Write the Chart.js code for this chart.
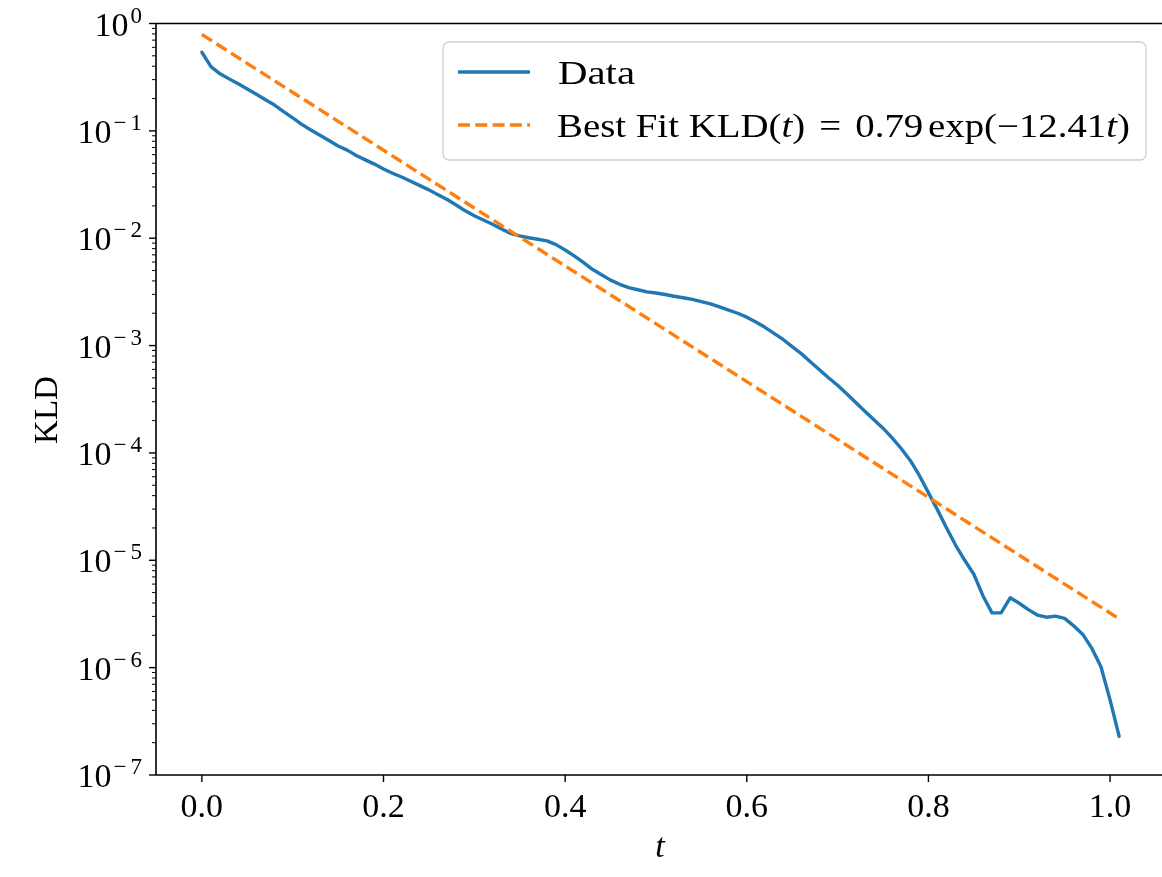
<!DOCTYPE html>
<html>
<head>
<meta charset="utf-8">
<title>KLD</title>
<script src="https://cdn.jsdelivr.net/npm/chart.js@4.4.1/dist/chart.umd.min.js"></script>
<style>
  html, body { margin: 0; padding: 0; background: #fff; }
  #chart { display: block; }
</style>
</head>
<body>
<canvas id="chart" width="1162" height="877"></canvas>
<script>
// time grid of the data
const tValues = [
  0.00, 0.01, 0.02, 0.03, 0.04, 0.05, 0.06, 0.07, 0.08, 0.09,
  0.10, 0.11, 0.12, 0.13, 0.14, 0.15, 0.16, 0.17, 0.18, 0.19,
  0.20, 0.21, 0.22, 0.23, 0.24, 0.25, 0.26, 0.27, 0.28, 0.29,
  0.30, 0.31, 0.32, 0.33, 0.34, 0.35, 0.36, 0.37, 0.38, 0.39,
  0.40, 0.41, 0.42, 0.43, 0.44, 0.45, 0.46, 0.47, 0.48, 0.49,
  0.50, 0.51, 0.52, 0.53, 0.54, 0.55, 0.56, 0.57, 0.58, 0.59,
  0.60, 0.61, 0.62, 0.63, 0.64, 0.65, 0.66, 0.67, 0.68, 0.69,
  0.70, 0.71, 0.72, 0.73, 0.74, 0.75, 0.76, 0.77, 0.78, 0.79,
  0.80, 0.81, 0.82, 0.83, 0.84, 0.85, 0.86, 0.87, 0.88, 0.89,
  0.90, 0.91, 0.92, 0.93, 0.94, 0.95, 0.96, 0.97, 0.98, 0.99,
  1.00, 1.01
];

// KLD
const kldValues = [
  0.540, 0.396, 0.340, 0.305, 0.275, 0.245, 0.219, 0.195, 0.174, 0.151,
  0.132, 0.115, 0.102, 0.0912, 0.0813, 0.0724, 0.0661, 0.0589, 0.0537, 0.0490,
  0.0442, 0.0403, 0.0372, 0.0339, 0.0309, 0.0282, 0.0254, 0.0229, 0.0204, 0.0180,
  0.0162, 0.0148, 0.0135, 0.0122, 0.0111, 0.0105, 0.0101, 0.00977, 0.00944, 0.00871,
  0.00776, 0.00684, 0.00596, 0.00513, 0.00457, 0.00407, 0.00372, 0.00347, 0.00331, 0.00316,
  0.00309, 0.00299, 0.00288, 0.00279, 0.00269, 0.00257, 0.00245, 0.00229, 0.00214, 0.00200,
  0.00184, 0.00166, 0.00148, 0.00130, 0.00114, 0.000977, 0.000841, 0.000708, 0.000596, 0.000501,
  0.000427, 0.000355, 0.000295, 0.000245, 0.000204, 0.000170, 0.000138, 0.000110, 8.51e-5, 6.17e-5,
  4.27e-5, 2.95e-5, 2.00e-5, 1.38e-5, 1.00e-5, 7.41e-6, 4.68e-6, 3.24e-6, 3.24e-6, 4.47e-6,
  3.98e-6, 3.47e-6, 3.09e-6, 2.95e-6, 3.02e-6, 2.88e-6, 2.45e-6, 2.04e-6, 1.51e-6, 1.02e-6,
  5.01e-7, 2.29e-7
];

// best fit line, straight on a log axis: its two ends
const fitT = [0.0, 1.01];
const fitValues = [0.79, 2.85e-6];

const xTicks = [0.0, 0.2, 0.4, 0.6, 0.8, 1.0];
const xTickLabels = ["0.0", "0.2", "0.4", "0.6", "0.8", "1.0"];
const yExponents = [0, -1, -2, -3, -4, -5, -6, -7];

const SERIF = '"Liberation Serif", "DejaVu Serif", serif';

function drawYLabel(ctx, y, exp) {
  ctx.textAlign = "left";
  ctx.textBaseline = "alphabetic";
  ctx.font = "23px " + SERIF;
  const digit = String(Math.abs(exp));
  const minusW = exp < 0 ? ctx.measureText("\u2212").width + 4 : 0;
  const expW = minusW + ctx.measureText(digit).width;
  const right = 142;
  let x = right - expW;
  if (exp < 0) ctx.fillText("\u2212", x, y - 1);
  ctx.fillText(digit, x + minusW, y - 1);
  ctx.font = "34px " + SERIF;
  ctx.textAlign = "right";
  ctx.fillText("10", x - 2, y + 12);
}

function measurePieces(ctx, pieces, size) {
  let w = 0;
  pieces.forEach((p) => {
    ctx.font = (p.italic ? "italic " : "") + size + "px " + SERIF;
    w += ctx.measureText(p.text).width + (p.gap || 0);
  });
  return w;
}

// draw a run of text pieces stretched to a target width
function drawPieces(ctx, x, y, pieces, size, targetW) {
  const w = measurePieces(ctx, pieces, size);
  const sx = targetW ? targetW / w : 1;
  ctx.save();
  ctx.translate(x, y);
  ctx.scale(sx, 1);
  let cx = 0;
  pieces.forEach((p) => {
    ctx.font = (p.italic ? "italic " : "") + size + "px " + SERIF;
    ctx.fillText(p.text, cx, 0);
    cx += ctx.measureText(p.text).width + (p.gap || 0);
  });
  ctx.restore();
}

const axesPlugin = {
  id: "mplAxes",
  afterDraw(chart) {
    const ctx = chart.ctx;
    const area = chart.chartArea;
    const xs = chart.scales.x;
    const ys = chart.scales.y;
    ctx.save();
    ctx.fillStyle = "#000";
    ctx.strokeStyle = "#000";

    // spines
    ctx.lineWidth = 1.6;
    ctx.beginPath();
    ctx.moveTo(area.left, area.top);
    ctx.lineTo(area.left, area.bottom);
    ctx.moveTo(area.left, area.bottom);
    ctx.lineTo(area.right, area.bottom);
    ctx.moveTo(area.left, area.top);
    ctx.lineTo(area.right, area.top);
    ctx.stroke();

    // y ticks, major and minor
    yExponents.forEach((e) => {
      const v = Math.pow(10, e);
      const py = ys.getPixelForValue(v);
      ctx.lineWidth = 1.4;
      ctx.beginPath();
      ctx.moveTo(area.left - 7, py);
      ctx.lineTo(area.left, py);
      ctx.stroke();
      drawYLabel(ctx, py, e);
      if (e < 0) {
        for (let m = 2; m <= 9; m++) {
          const pm = ys.getPixelForValue(m * v);
          ctx.lineWidth = 1;
          ctx.beginPath();
          ctx.moveTo(area.left - 4, pm);
          ctx.lineTo(area.left, pm);
          ctx.stroke();
        }
      }
    });

    // x ticks
    ctx.font = "34px " + SERIF;
    ctx.textAlign = "center";
    ctx.textBaseline = "alphabetic";
    xTicks.forEach((t, i) => {
      const px = xs.getPixelForValue(t);
      ctx.lineWidth = 1.4;
      ctx.beginPath();
      ctx.moveTo(px, area.bottom);
      ctx.lineTo(px, area.bottom + 7);
      ctx.stroke();
      ctx.fillText(xTickLabels[i], px, 817);
    });

    // axis titles
    ctx.font = "italic 34px " + SERIF;
    ctx.fillText("t", 660, 857);
    ctx.save();
    ctx.translate(57, 410);
    ctx.rotate(-Math.PI / 2);
    ctx.font = "33px " + SERIF;
    ctx.textAlign = "center";
    ctx.fillText("KLD", 0, 0);
    ctx.restore();

    // legend
    const lx = 443, ly = 42, lw = 703, lh = 118, r = 6;
    ctx.beginPath();
    ctx.roundRect(lx, ly, lw, lh, r);
    ctx.fillStyle = "rgba(255,255,255,0.8)";
    ctx.fill();
    ctx.strokeStyle = "#d0d0d0";
    ctx.lineWidth = 1.3;
    ctx.stroke();

    const ds = chart.data.datasets;
    ctx.lineWidth = ds[0].borderWidth;
    ctx.strokeStyle = ds[0].borderColor;
    ctx.setLineDash([]);
    ctx.beginPath();
    ctx.moveTo(458, 72);
    ctx.lineTo(530, 72);
    ctx.stroke();

    ctx.strokeStyle = ds[1].borderColor;
    ctx.lineWidth = ds[1].borderWidth;
    ctx.setLineDash(ds[1].borderDash);
    ctx.beginPath();
    ctx.moveTo(458, 125);
    ctx.lineTo(530, 125);
    ctx.stroke();
    ctx.setLineDash([]);

    ctx.fillStyle = "#000";
    ctx.textAlign = "left";
    drawPieces(ctx, 558, 84, [{ text: "Data" }], 33, 77);
    drawPieces(ctx, 557, 137, [
      { text: "Best Fit KLD(" }, { text: "t", italic: true },
      { text: ")", gap: 12 }, { text: "=", gap: 12 },
      { text: "0.79", gap: 4 }, { text: "exp(\u221212.41" },
      { text: "t", italic: true }, { text: ")" },
    ], 33, 573);

    ctx.restore();
  },
};

const chart = new Chart(document.getElementById("chart"), {
  type: "line",
  data: {
    datasets: [
      {
        label: "Data",
        data: tValues.map((t, i) => ({ x: t, y: kldValues[i] })),
        borderColor: "#1f77b4",
        borderWidth: 3.4,
        borderJoinStyle: "round",
        borderCapStyle: "round",
        pointRadius: 0,
        tension: 0,
        fill: false,
        order: 2,
      },
      {
        label: "Best Fit",
        data: fitT.map((t, i) => ({ x: t, y: fitValues[i] })),
        borderColor: "#ff7f0e",
        borderWidth: 3.4,
        borderDash: [12, 5.3],
        pointRadius: 0,
        tension: 0,
        fill: false,
        order: 1,
      },
    ],
  },
  options: {
    responsive: false,
    animation: false,
    devicePixelRatio: 1,
    layout: { padding: { top: 23.5, left: 0, right: 0, bottom: 0 } },
    plugins: { legend: { display: false }, tooltip: { enabled: false } },
    scales: {
      x: {
        type: "linear",
        min: -0.0505,
        max: 1.0572,
        grid: { display: false },
        border: { display: false },
        ticks: { display: false },
        afterFit: (s) => { s.height = 102; },
      },
      y: {
        type: "logarithmic",
        min: 1e-7,
        max: 1,
        grid: { display: false },
        border: { display: false },
        ticks: { display: false },
        afterFit: (s) => { s.width = 156; },
      },
    },
  },
  plugins: [axesPlugin],
});
</script>
</body>
</html>
